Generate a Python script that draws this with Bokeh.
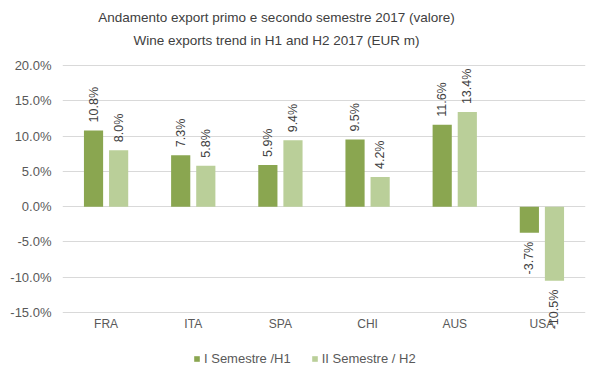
import math
from bokeh.plotting import figure
from bokeh.models import (ColumnDataSource, FactorRange, NumeralTickFormatter, LabelSet,
                          Label, Legend, LegendItem, FixedTicker)
from bokeh.core.properties import value
from bokeh.transform import dodge
from bokeh.embed import file_html
from bokeh.resources import INLINE

countries = ["FRA", "ITA", "SPA", "CHI", "AUS", "USA"]
h1 = [0.108, 0.073, 0.059, 0.095, 0.116, -0.037]
h2 = [0.080, 0.058, 0.094, 0.042, 0.134, -0.105]
series_names = ["I Semestre /H1", "II Semestre / H2"]
title_lines = ["Andamento export primo e secondo semestre 2017 (valore)",
               "Wine exports trend in H1 and H2 2017 (EUR m)"]
y_ticks = [-0.15, -0.10, -0.05, 0.0, 0.05, 0.10, 0.15, 0.20]

C1 = "#8AA650"
C2 = "#BACF99"
TXT = "#404040"
AX = "#595959"
FONT = "Liberation Sans"

src = ColumnDataSource(dict(x=countries, h1=h1, h2=h2,
                            l1=["%.1f%%" % (v * 100) for v in h1],
                            l2=["%.1f%%" % (v * 100) for v in h2],
                            a1=["left" if v >= 0 else "right" for v in h1],
                            a2=["left" if v >= 0 else "right" for v in h2],
                            o1=[8 if v >= 0 else -9 for v in h1],
                            o2=[8 if v >= 0 else -9 for v in h2]))

# The frame spans the whole canvas height so that title and legend (drawn inside it)
# are not clipped; gridlines/ticks are fixed to the -15%..20% range.
p = figure(x_range=FactorRange(*countries, range_padding=0), y_range=(-0.2265, 0.2921),
           frame_width=523, frame_height=366, output_backend="svg", toolbar_location=None,
           min_border_left=62, min_border_right=6, min_border_top=0, min_border_bottom=0)
p.outline_line_color = None
p.background_fill_color = "white"

off = 0.144
w = 0.22
r1 = p.vbar(x=dodge("x", -off, range=p.x_range), top="h1", bottom=0, width=w, source=src,
            fill_color=C1, line_color=None)
r2 = p.vbar(x=dodge("x", off, range=p.x_range), top="h2", bottom=0, width=w, source=src,
            fill_color=C2, line_color=None)

for xf, yf, lf, af, of in [(-off, "h1", "l1", "a1", "o1"), (off, "h2", "l2", "a2", "o2")]:
    ls = LabelSet(x=dodge("x", xf, range=p.x_range), y=yf, text=lf, source=src,
                  angle=math.pi / 2, text_align={"field": af}, text_baseline="middle",
                  y_offset={"field": of}, text_font_size="12.5px", text_color=TXT,
                  text_font=value(FONT))
    p.add_layout(ls)

p.yaxis.ticker = FixedTicker(ticks=y_ticks)
p.yaxis.formatter = NumeralTickFormatter(format="0.0%")
p.yaxis.axis_line_color = None
p.yaxis.major_tick_line_color = None
p.yaxis.minor_tick_line_color = None
p.yaxis.major_tick_out = 0
p.yaxis.major_tick_in = 0
p.yaxis.major_label_text_font_size = "13px"
p.yaxis.major_label_text_color = AX
p.yaxis.major_label_text_font = FONT
p.yaxis.major_label_standoff = 11

p.xaxis.axis_line_color = None
p.xaxis.major_tick_line_color = None
p.xaxis.major_tick_out = 0
p.xaxis.major_tick_in = 0
p.xaxis.major_label_text_font_size = "12px"
p.xaxis.major_label_text_color = AX
p.xaxis.major_label_text_font = FONT
p.xaxis.major_label_standoff = -50

p.xgrid.grid_line_color = None
p.ygrid.ticker = FixedTicker(ticks=y_ticks)
p.ygrid.grid_line_color = "#D9D9D9"
p.ygrid.grid_line_width = 1

# two-line title, centred (frame-relative screen units)
for t, ys in zip(title_lines, [349, 326]):
    p.add_layout(Label(x=214, y=ys, x_units="screen", y_units="screen", text=t,
                       text_align="center", text_baseline="middle", text_font_size="13.5px",
                       text_color=TXT, text_font=FONT))

legend = Legend(items=[LegendItem(label=series_names[0], renderers=[r1]),
                       LegendItem(label=series_names[1], renderers=[r2])],
                location=(131, 0), orientation="horizontal", border_line_color=None,
                background_fill_alpha=0, glyph_width=7, glyph_height=7, label_standoff=4,
                spacing=20, padding=0, margin=0, label_text_font_size="13px",
                label_text_color=AX, label_text_font=FONT)
p.add_layout(legend, "center")

open("out.html", "w").write(file_html(p, INLINE))
